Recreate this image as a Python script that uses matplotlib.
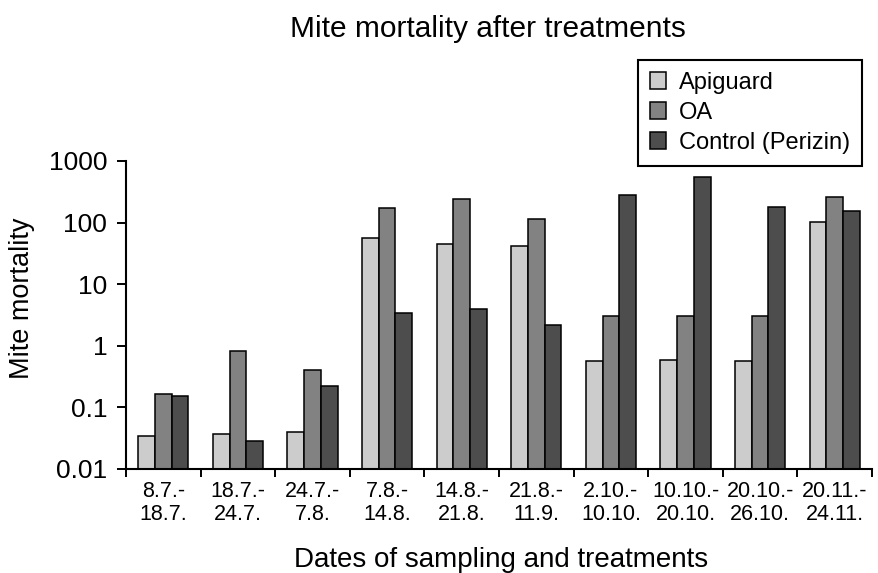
import matplotlib
matplotlib.use("Agg")
import matplotlib.pyplot as plt
import numpy as np

plt.rcParams['font.family'] = ['Liberation Sans', 'DejaVu Sans']

categories = ["8.7.-\n18.7.", "18.7.-\n24.7.", "24.7.-\n7.8.", "7.8.-\n14.8.", "14.8.-\n21.8.",
              "21.8.-\n11.9.", "2.10.-\n10.10.", "10.10.-\n20.10.", "20.10.-\n26.10.", "20.11.-\n24.11."]
series_names = ["Apiguard", "OA", "Control (Perizin)"]
apiguard = [0.034, 0.037, 0.040, 56, 45, 42, 0.57, 0.58, 0.57, 104]
oa = [0.165, 0.81, 0.40, 174, 242, 116, 3.1, 3.1, 3.1, 257]
control = [0.155, 0.029, 0.22, 3.4, 4.0, 2.2, 281, 543, 181, 156]
ytick_values = [0.01, 0.1, 1, 10, 100, 1000]
ytick_labels = ["0.01", "0.1", "1", "10", "100", "1000"]

colors = ["#cccccc", "#828282", "#4d4d4d"]

fig = plt.figure(figsize=(8.79, 5.73), dpi=100)
ax = fig.add_axes([126/879, 1-469/573, 746/879, 308/573])
ax.set_yscale('log')

x = np.arange(len(categories))
w = 0.224
for k, (vals, name) in enumerate(zip([apiguard, oa, control], series_names)):
    ax.bar(x + (k-1)*w, np.array(vals) - 0.005, width=w, bottom=0.005, color=colors[k],
           edgecolor='black', linewidth=1.1, label=name, zorder=2)

ax.set_xlim(-0.5, len(categories)-0.5)
ax.set_ylim(0.01, 1000)
ax.set_yticks(ytick_values)
ax.set_yticklabels(ytick_labels)
ax.yaxis.set_minor_locator(matplotlib.ticker.NullLocator())

ax.set_xticks(np.arange(len(categories)+1) - 0.5)
ax.set_xticklabels([])
ax.set_xticks(x, minor=True)
ax.set_xticklabels(categories, minor=True, fontsize=15.5, linespacing=1.12)
ax.tick_params(axis='x', which='major', length=6, width=1.4, direction='out')
ax.tick_params(axis='x', which='minor', length=0, pad=8.5)
ax.tick_params(axis='y', which='major', length=6.5, width=1.4, labelsize=19, pad=7)

for s in ['top', 'right']:
    ax.spines[s].set_visible(False)
for s in ['left', 'bottom']:
    ax.spines[s].set_linewidth(1.5)

fig.text(488/879, 1-29/573, "Mite mortality after treatments", ha='center', va='center', fontsize=21.5)
fig.text(22/879, 1-298/573, "Mite mortality", ha='center', va='center', rotation=90, fontsize=19.5)
fig.text(501/879, 1-567/573, "Dates of sampling and treatments", ha='center', va='baseline', fontsize=20)

leg = ax.legend(loc='upper left', bbox_to_anchor=(638/879, 1-60/573), bbox_transform=fig.transFigure,
                fontsize=17, frameon=True, fancybox=False, edgecolor='black', framealpha=1,
                handlelength=0.68, handleheight=0.68, handletextpad=0.55, labelspacing=0.34,
                borderpad=0.5, borderaxespad=0)
leg.get_frame().set_linewidth(1.5)

fig.savefig("out.png", dpi=100)
